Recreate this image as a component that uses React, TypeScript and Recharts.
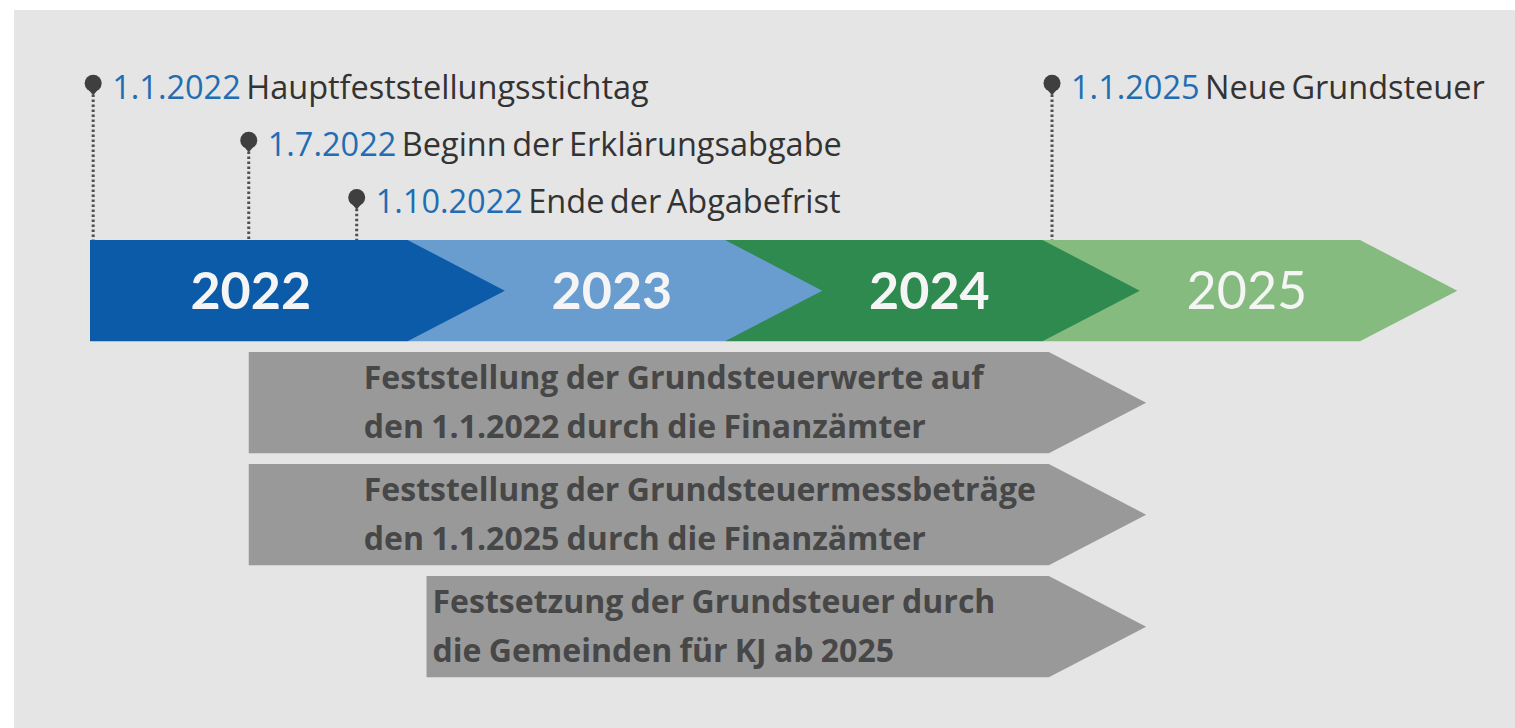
import { ComposedChart, XAxis, YAxis, ReferenceArea, ReferenceLine, Scatter } from "recharts"

// Zeitstrahl Grundsteuerreform
const years = [2022, 2023, 2024, 2025]
const yearColors = ["#0b5ba9", "#699dcf", "#2e8a4e", "#86bb80"]
const yearWeights = [700, 700, 700, 400]

const milestoneDates = [2022.01, 2022.5, 2022.84, 2025.03]
const milestoneDateLabels = ["1.1.2022", "1.7.2022", "1.10.2022", "1.1.2025"]
const milestoneTexts = ["Hauptfeststellungsstichtag", "Beginn der Erklärungsabgabe", "Ende der Abgabefrist", "Neue Grundsteuer"]
const milestoneLevels = [0, 1, 2, 0]

const taskStarts = [2022.5, 2022.5, 2023.06]
const taskEnds = [2025.02, 2025.02, 2025.02]
const taskFirstLines = [
  "Feststellung der Grundsteuerwerte auf",
  "Feststellung der Grundsteuermessbeträge",
  "Festsetzung der Grundsteuer durch",
]
const taskSecondLines = [
  "den 1.1.2022 durch die Finanzämter",
  "den 1.1.2025 durch die Finanzämter",
  "die Gemeinden für KJ ab 2025",
]

const W = 1515
const H = 728
const PX_PER_YEAR = 317.5
const X_MIN = 2022 - 90 / PX_PER_YEAR
const X_MAX = X_MIN + W / PX_PER_YEAR
const LANE_PX = 112
const Y_MIN = -240 / LANE_PX
const Y_MAX = Y_MIN + H / LANE_PX
const LANE_H = 0.905
const TASK_TEXT_INDENT = [115, 115, 6]
const FONT = "'Open Sans', 'Noto Sans', sans-serif"
const YEAR_FONT = "Lato, 'Open Sans', sans-serif"

const levelY = (level: number) => -1.4 + 0.51 * level

const milestones = milestoneDates.map((x, i) => ({
  x,
  y: levelY(milestoneLevels[i]),
  date: milestoneDateLabels[i],
  text: milestoneTexts[i],
}))

const chevronPoints = (x: number, y: number, width: number, height: number) => {
  const tip = height * 0.96
  return `${x},${y} ${x + width},${y} ${x + width + tip},${y + height / 2} ${x + width},${y + height} ${x},${y + height}`
}

const yearShape = (i: number) => (props: any) => {
  const { x, y, width, height } = props
  const tip = height * 0.96
  const cx = i === 0 ? x + width / 2 + 2 : (x + tip + x + width) / 2 - 3
  return (
    <g>
      <polygon points={chevronPoints(x, y, width, height)} fill={yearColors[i]} />
      <text
        x={cx}
        y={y + height / 2 - 2}
        textAnchor="middle"
        dominantBaseline="central"
        fill="#f5f5f5"
        fontFamily={YEAR_FONT}
        fontWeight={yearWeights[i]}
        fontSize={52}
      >
        {years[i]}
      </text>
    </g>
  )
}

const taskShape = (i: number) => (props: any) => {
  const { x, y, width, height } = props
  const tx = x + TASK_TEXT_INDENT[i]
  return (
    <g>
      <polygon points={chevronPoints(x, y, width, height)} fill="#999999" />
      <text x={tx} y={y + 37} fill="#474747" fontFamily={FONT} fontWeight={700} fontSize={32} wordSpacing={-1}>
        {taskFirstLines[i]}
      </text>
      <text x={tx} y={y + 86} fill="#474747" fontFamily={FONT} fontWeight={700} fontSize={32} wordSpacing={-1}>
        {taskSecondLines[i]}
      </text>
    </g>
  )
}

const MilestonePin = (props: any) => {
  const { cx, cy, payload } = props
  return (
    <g>
      <path d={`M${cx - 6},${cy + 5} L${cx},${cy + 12} L${cx + 6},${cy + 5} Z`} fill="#3f3f3f" />
      <circle cx={cx} cy={cy} r={8.5} fill="#3f3f3f" />
      <text x={cx + 19} y={cy + 16} fontFamily={FONT} fontSize={32.5} wordSpacing={-3}>
        <tspan fill="#1f6db3">{payload.date}</tspan>
        <tspan fill="#333333">{" " + payload.text}</tspan>
      </text>
    </g>
  )
}

export default function App() {
  return (
    <div style={{ position: "fixed", left: 0, top: 0, width: W, height: H, background: "#ffffff", overflow: "hidden" }}>
      <div style={{ position: "absolute", left: 14, top: 10, width: W - 14, height: H - 10, background: "#e5e5e5" }} />
      <div style={{ position: "absolute", left: 0, top: 0 }}>
        <ComposedChart width={W} height={H} margin={{ top: 0, right: 0, bottom: 0, left: 0 }}>
          <XAxis type="number" dataKey="x" domain={[X_MIN, X_MAX]} allowDataOverflow hide />
          <YAxis type="number" dataKey="y" domain={[Y_MIN, Y_MAX]} allowDataOverflow reversed hide />
          {years
            .map((yr, i) => (
              <ReferenceArea key={yr} x1={yr} x2={yr + 1} y1={0} y2={LANE_H} shape={yearShape(i)} />
            ))
            .reverse()}
          {taskStarts.map((s, i) => (
            <ReferenceArea key={"t" + i} x1={s} x2={taskEnds[i]} y1={i + 1} y2={i + 1 + LANE_H} shape={taskShape(i)} />
          ))}
          {milestones.map((m) => (
            <ReferenceLine
              key={"l" + m.date}
              segment={[
                { x: m.x, y: m.y + 0.1 },
                { x: m.x, y: 0 },
              ]}
              stroke="#505050"
              strokeWidth={3}
              strokeDasharray="2.5 2.5"
            />
          ))}
          <Scatter data={milestones} shape={MilestonePin} isAnimationActive={false} />
        </ComposedChart>
      </div>
    </div>
  )
}
